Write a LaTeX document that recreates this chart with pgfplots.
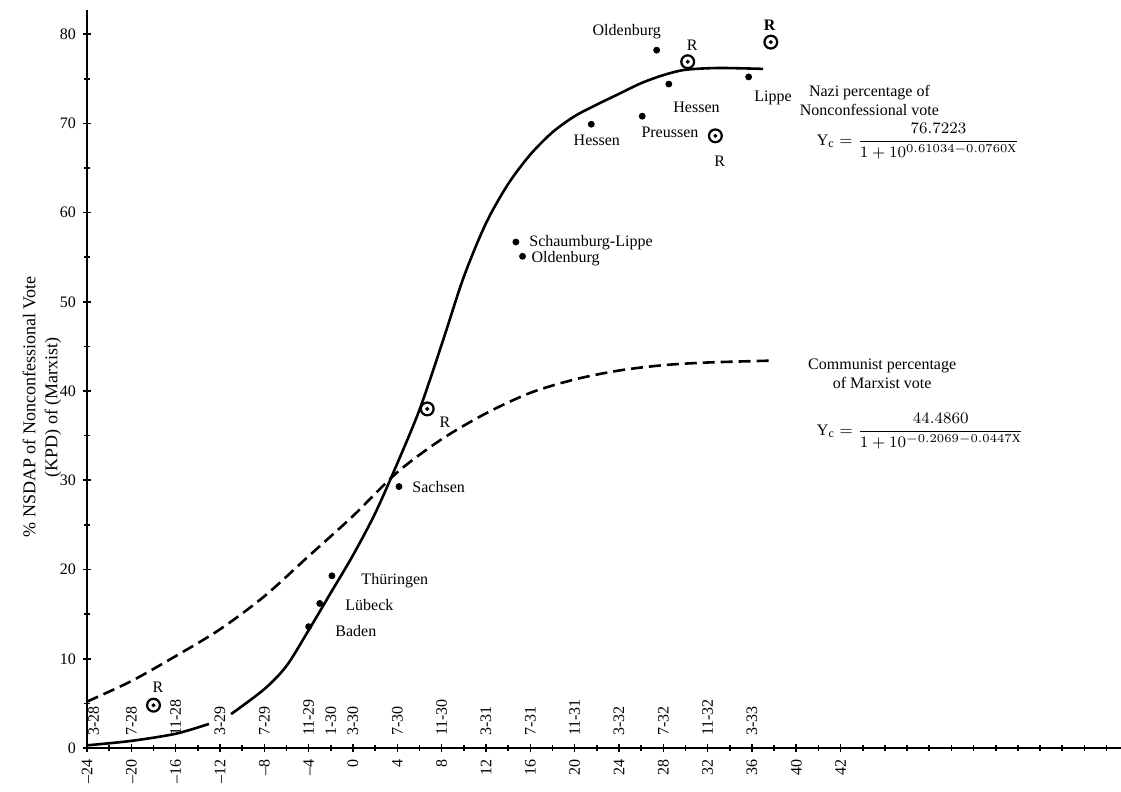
\documentclass[border=0pt]{standalone}
\usepackage{fontspec}
\setmainfont{Liberation Serif}
\usepackage{amsmath}
\usepackage{pgfplots}
\pgfplotsset{compat=1.18}
\begin{document}
\begin{tikzpicture}
\begin{axis}[
  scale only axis, width=517pt, height=369pt,
  xmin=-24, xmax=69.3, ymin=0, ymax=82.7,
  axis x line=bottom, axis y line=left,
  axis line style={-, line width=1.2pt},
  clip=false,
  xtick={-24,-20,...,44},
  xticklabels={--24,--20,--16,--12,--8,--4,0,4,8,12,16,20,24,28,32,36,40,42},
  minor xtick={-22,-18,-14,-10,-6,-2,2,6,10,14,18,22,26,30,34,38,42,46,48,50,52,54,56,58,60,62,64,66,68},
  ytick={0,10,...,80},
  minor ytick={5,15,...,75},
  tick align=center,
  major tick length=4pt, minor tick length=3pt,
  every tick/.style={black, line width=0.8pt},
  xticklabel style={rotate=90, anchor=east, font=\footnotesize},
  yticklabel style={font=\footnotesize},
  /pgf/number format/assume math mode=true,
]
% Nazi curve (solid), drawn in two pieces as in the original
\addplot[black, line width=1.3pt, smooth] coordinates {
 (-24,0.3) (-20,0.8) (-16,1.6) (-13,2.7)};
\addplot[black, line width=1.3pt, smooth] coordinates {
 (-11,3.8) (-8,6.6) (-6,9.2) (-4,13.2) (-2,17.4) (0,21.6) (2,26.3)
 (4,31.9) (6,37.9) (8,45.2) (10,52.8) (12,58.8) (14,63.2) (16,66.5)
 (18,69.0) (20,70.8) (22,72.1) (24,73.3) (26,74.5) (28,75.4) (30,76.0)
 (33,76.2) (37,76.1)};
% Communist curve (dashed)
\addplot[black, line width=1.3pt, dash pattern=on 6pt off 3pt, smooth] coordinates {
 (-24,5.2) (-20,7.5) (-16,10.3) (-12,13.3) (-8,17.0) (-4,21.5) (0,26.0)
 (4,30.9) (8,34.6) (12,37.5) (16,39.8) (20,41.3) (24,42.3) (28,42.9)
 (32,43.2) (37.5,43.4)};
% Land dots
\addplot[only marks, mark=*, mark size=1.5pt, black] coordinates {
 (27.4,78.2) (28.5,74.4) (35.7,75.2) (26.1,70.8) (21.5,69.9)
 (14.7,56.7) (15.3,55.1) (4.15,29.3) (-1.9,19.3) (-3.0,16.2) (-4.0,13.6)};
% Reich (R) circles
\addplot[only marks, mark=o, mark size=3.2pt, black, line width=1.1pt] coordinates {
 (30.2,76.9) (37.7,79.1) (32.7,68.6) (6.7,38.0) (-18.0,4.8)};
\addplot[only marks, mark=*, mark size=0.8pt, black] coordinates {
 (30.2,76.9) (37.7,79.1) (32.7,68.6) (6.7,38.0) (-18.0,4.8)};

% point labels
\begin{scope}[every node/.style={font=\footnotesize, inner sep=1pt}]
\node at (axis cs:24.7,80.3) {Oldenburg};
\node at (axis cs:30.6,78.7) {R};
\node at (axis cs:37.6,81.0) {\textbf{R}};
\node at (axis cs:31.0,71.8) {Hessen};
\node at (axis cs:37.9,72.8) {Lippe};
\node at (axis cs:28.6,69.0) {Preussen};
\node at (axis cs:22.0,68.1) {Hessen};
\node at (axis cs:33.1,65.8) {R};
\node[anchor=west] at (axis cs:15.7,56.6) {Schaumburg-Lippe};
\node[anchor=west] at (axis cs:15.9,54.8) {Oldenburg};
\node at (axis cs:8.3,36.5) {R};
\node[anchor=west] at (axis cs:5.15,29.2) {Sachsen};
\node[anchor=west] at (axis cs:0.55,18.8) {Thüringen};
\node[anchor=west] at (axis cs:-0.9,16.0) {Lübeck};
\node[anchor=west] at (axis cs:-1.8,13.1) {Baden};
\node at (axis cs:-17.6,6.8) {R};
\end{scope}

% date labels above the axis
\begin{scope}[every node/.style={font=\footnotesize, rotate=90, anchor=west, inner sep=1pt}]
\node at (axis cs:-23.4,1.1) {3-28};
\node at (axis cs:-20,1.1) {7-28};
\node at (axis cs:-16,1.1) {11-28};
\node at (axis cs:-12,1.1) {3-29};
\node at (axis cs:-8,1.1) {7-29};
\node at (axis cs:-4,1.1) {11-29};
\node at (axis cs:-2,1.1) {1-30};
\node at (axis cs:0,1.1) {3-30};
\node at (axis cs:4,1.1) {7-30};
\node at (axis cs:8,1.1) {11-30};
\node at (axis cs:12,1.1) {3-31};
\node at (axis cs:16,1.1) {7-31};
\node at (axis cs:20,1.1) {11-31};
\node at (axis cs:24,1.1) {3-32};
\node at (axis cs:28,1.1) {7-32};
\node at (axis cs:32,1.1) {11-32};
\node at (axis cs:36,1.1) {3-33};
\end{scope}

% curve annotations
\node[font=\footnotesize, align=center] at (axis cs:46.6,72.6) {Nazi percentage of\\Nonconfessional vote};
\node[font=\footnotesize] at (axis cs:51.0,68.0)
 {$\mathrm{Y_c}=\dfrac{76.7223}{1+10^{0.61034-0.0760\mathrm{X}}}$};
\node[font=\footnotesize, align=center] at (axis cs:47.75,41.9) {Communist percentage\\of Marxist vote};
\node[font=\footnotesize] at (axis cs:51.2,35.5)
 {$\mathrm{Y_c}=\dfrac{44.4860}{1+10^{-0.2069-0.0447\mathrm{X}}}$};

% y label
\node[rotate=90, align=center, font=\small] at (axis description cs:-0.0435,0.462)
 {\% NSDAP of Nonconfessional Vote\\(KPD) of (Marxist)};

\coordinate (sw) at (rel axis cs:0,0);
\coordinate (ne) at (rel axis cs:1,1);
\end{axis}
\pgfresetboundingbox
\path[use as bounding box] ([shift={(-43.5pt,-21.5pt)}]sw) rectangle ([shift={(0pt,5pt)}]ne);
\end{tikzpicture}
\end{document}
